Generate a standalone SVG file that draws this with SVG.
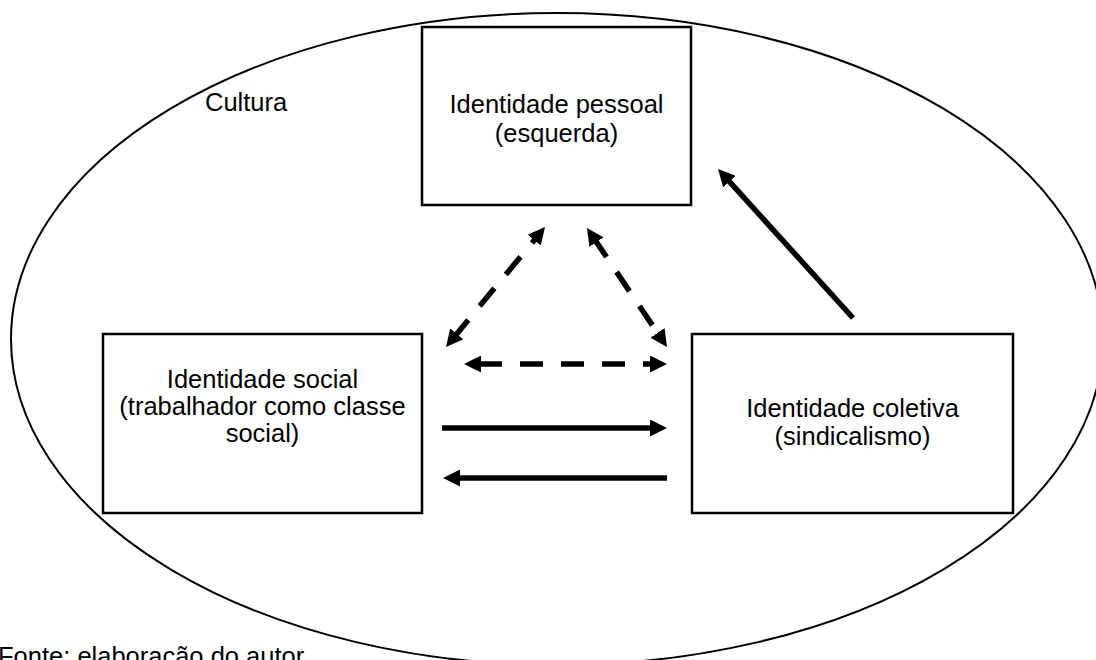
<svg xmlns="http://www.w3.org/2000/svg" width="1096" height="660" viewBox="0 0 1096 660">
  <style>
    .box { fill: #fff; stroke: #000; stroke-width: 2.5; }
    .lbl { font-family: "Liberation Sans", Arial, sans-serif; font-size: 25.5px; fill: #000; }
    .mid { text-anchor: middle; }
    .solid { stroke: #000; stroke-width: 5.5; fill: none; }
    .dash { stroke: #000; stroke-width: 5.5; fill: none; stroke-dasharray: 23 18; }
  </style>
  <defs>
    <marker id="head" viewBox="0 0 17 17" refX="5" refY="8.5" markerWidth="17" markerHeight="17" markerUnits="userSpaceOnUse" orient="auto-start-reverse">
      <path d="M0,0 L17,8.5 L0,17 Z" fill="#000"/>
    </marker>
  </defs>
  <rect width="1096" height="660" fill="#fff"/>

  <!-- culture ellipse enclosing everything -->
  <g id="cultura">
    <ellipse cx="557" cy="339" rx="546" ry="326" fill="none" stroke="#000" stroke-width="2"/>
    <text class="lbl" x="205" y="111">Cultura</text>
  </g>

  <g id="pessoal">
    <rect class="box" x="422" y="27" width="269" height="178"/>
    <text class="lbl mid" x="556.5" y="113">Identidade pessoal</text>
    <text class="lbl mid" x="556.5" y="141.5">(esquerda)</text>
  </g>

  <g id="social">
    <rect class="box" x="103" y="334" width="319" height="179"/>
    <text class="lbl mid" x="262.5" y="388">Identidade social</text>
    <text class="lbl mid" x="262.5" y="415">(trabalhador como classe</text>
    <text class="lbl mid" x="262.5" y="442">social)</text>
  </g>

  <g id="coletiva">
    <rect class="box" x="692" y="334" width="321" height="179"/>
    <text class="lbl mid" x="852.5" y="417">Identidade coletiva</text>
    <text class="lbl mid" x="852.5" y="444.5">(sindicalismo)</text>
  </g>

  <g id="connectors">
    <!-- dashed two-way links -->
    <line class="dash" x1="453.6" y1="337.7" x2="537.4" y2="236.3" marker-start="url(#head)" marker-end="url(#head)"/>
    <line class="dash" x1="593.7" y1="238" x2="660.3" y2="337" marker-start="url(#head)" marker-end="url(#head)"/>
    <line class="dash" x1="476" y1="364" x2="655" y2="364" stroke-dashoffset="-3" marker-start="url(#head)" marker-end="url(#head)"/>
    <!-- solid one-way links -->
    <line class="solid" x1="442" y1="428" x2="655" y2="428" marker-end="url(#head)"/>
    <line class="solid" x1="667" y1="478" x2="455" y2="478" marker-end="url(#head)"/>
    <line class="solid" x1="853" y1="318" x2="726.1" y2="177.9" marker-end="url(#head)"/>
  </g>

  <text id="fonte" class="lbl" x="-2" y="665">Fonte: elaboração do autor</text>
</svg>
